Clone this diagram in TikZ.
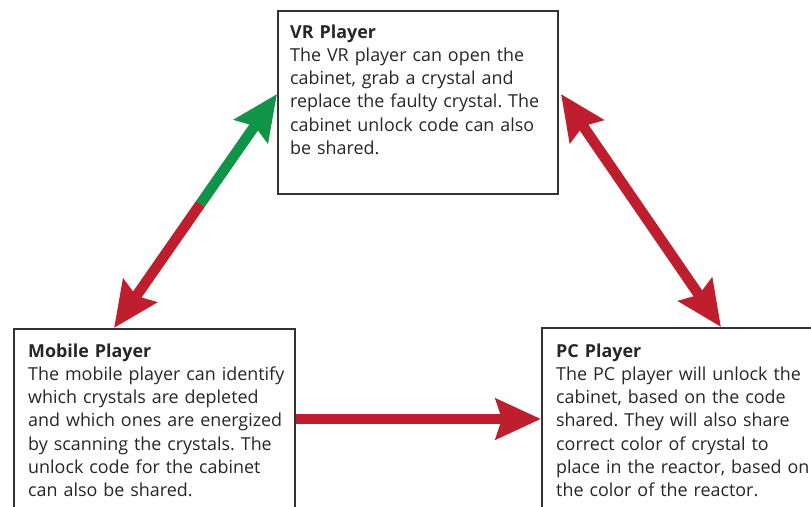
\documentclass[tikz,border=0pt]{standalone}
\usepackage{fontspec}
\setmainfont{Open Sans}
\usetikzlibrary{arrows.meta,calc}
\definecolor{arrowred}{HTML}{BE1E2D}
\definecolor{arrowgreen}{HTML}{109447}
\definecolor{boxgray}{HTML}{333333}
\definecolor{textgray}{HTML}{262626}
\frenchspacing

\begin{document}
\begin{tikzpicture}[x=1pt,y=-1pt,
  bigtip/.tip={Stealth[length=45pt,width=40pt,inset=6pt]},
  box/.style={draw=boxgray,line width=2pt,inner sep=0pt,anchor=north west},
  txt/.style={anchor=base west,inner sep=0pt,text width=275pt,align=left,
    text=textgray,font=\fontsize{17.9}{23.3}\selectfont},
  link/.style={line width=10.5pt,-bigtip}]
\useasboundingbox (0,0) rectangle (811,506);
\clip (0,0) rectangle (811,506);
% the three boxes
\node[box,minimum width=280pt,minimum height=183pt] (vr) at (277,10) {};
\node[box,minimum width=281pt,minimum height=180pt] (mob) at (13,328) {};
\node[box,minimum width=280pt,minimum height=182pt] (pc) at (541,327) {};
\node[txt] (vrtxt) at ([xshift=13pt,yshift=-28pt]vr.north west)
  {\textbf{VR Player}\\The VR player can open the\\cabinet, grab a crystal and\\
   replace the faulty crystal. The\\cabinet unlock code can also\\be shared.};
\node[txt] (mobtxt) at ([xshift=15pt,yshift=-29pt]mob.north west)
  {\textbf{Mobile Player}\\The mobile player can identify\\which crystals are depleted\\
   and which ones are energized\\by scanning the crystals. The\\unlock code for the cabinet\\
   can also be shared.};
\node[txt] (pctxt) at ([xshift=15pt,yshift=-30pt]pc.north west)
  {\textbf{PC Player}\\The PC player will unlock the\\cabinet, based on the code\\
   shared. They will also share\\correct color of crystal to\\place in the reactor, based on\\
   the color of the reactor.};
% arrow ends
\coordinate (vrL) at ([yshift=8.5pt]vr.west);
\coordinate (vrR) at ([xshift=2pt,yshift=8.5pt]vr.east);
\coordinate (mobT) at ([xshift=-40.5pt]mob.north);
\coordinate (pcT) at ([xshift=39pt]pc.north);
\coordinate (mid) at ($(mobT)!0.53!(vrL)$);
\draw[link,arrowgreen] (mid) -- (vrL);
\draw[link,arrowred] (mid) -- (mobT);
\draw[link,arrowred,bigtip-bigtip] (vrR) -- (pcT);
\draw[link,arrowred] (mob.east) -- (pc.west);
\end{tikzpicture}
\end{document}
